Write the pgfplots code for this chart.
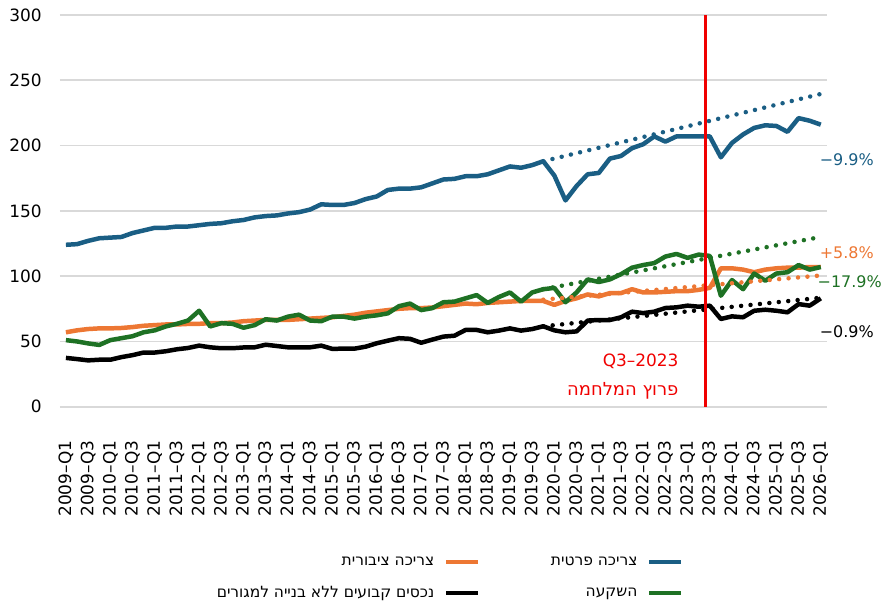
\documentclass[border=0pt]{standalone}
\usepackage{fontspec}
\setmainfont{DejaVu Sans}
\newfontfamily\hebfont[Script=Hebrew]{DejaVu Sans}
\TeXXeTstate=1
\usepackage{pgfplots}
\usepackage{pgfplotstable}
\pgfplotsset{compat=1.18}

\definecolor{cblue}{RGB}{26,94,132}
\definecolor{corange}{RGB}{237,119,51}
\definecolor{cgreen}{RGB}{30,113,36}
\definecolor{cred}{RGB}{240,0,0}
\definecolor{cgrid}{RGB}{217,217,217}

\newcommand{\heb}[1]{{\hebfont\beginR #1\endR}}

\pgfplotstableread{
i blue orange green black
0 124 57 51 37.4
1 124.5 58.5 50 36.5
2 127 59.5 48.5 35.5
3 129 60 47.3 36
4 129.5 60 51 36
5 130 60.3 52.5 38
6 133 61 54 39.5
7 135 62 57 41.5
8 137 62.5 58.5 41.5
9 137 63 61.5 42.5
10 138 63 63.5 44
11 138 63.4 66 45
12 139 63.5 73.5 46.8
13 140 64 61.5 45.5
14 140.5 64 64 44.8
15 142 64.5 63.5 44.8
16 143 65.5 60.5 45.4
17 145 66 62.5 45.5
18 146 66.5 67 47.5
19 146.5 66.5 66 46.5
20 148 66.5 69 45.5
21 149 67 70.5 45.5
22 151 67.5 66 45.5
23 155 68 65.5 46.8
24 154.5 68.5 69 44.3
25 154.5 69.5 69 44.5
26 156 70.5 67.5 44.5
27 159 72 69 46
28 161 73 70 48.6
29 166 74 71.5 50.6
30 167 75 77 52.5
31 167 75.5 79 52
32 168 75.5 74 49
33 171 76 75.5 51.4
34 174 77 80 53.7
35 174.5 78 80.5 54.4
36 176.5 79 83 58.8
37 176.5 78.5 85.5 58.8
38 178 79.5 79.5 57
39 181 80 84 58.3
40 184 80.5 87.5 60
41 183 81 80.5 58.3
42 185 81 87.5 59.5
43 188 81 90 61.6
44 177 78 91 58.5
45 158 81 80 57
46 169 83 87.5 57.7
47 178 86 97.5 66
48 179 84.5 95.5 66.4
49 190 87 97.5 66.4
50 192 87 101.5 68.5
51 198 90 106.5 72.8
52 201 87.5 108.5 71.7
53 207 87.5 110 72.8
54 203 88 115 75.6
55 207 88.5 117 76.1
56 207 88.5 114 77.4
57 207 89.5 116.5 76.6
58 207 91 115.5 77.4
59 191 106 85 67.2
60 202 106 97 69.2
61 208.5 105 90 68.5
62 213.5 103 102 73.5
63 215.5 105 96.5 74.3
64 215 106 102 73.5
65 210.5 106.5 103 72.3
66 221 106.5 108.5 78.6
67 219 107 105 77.4
68 216 107 107 83
}\data

\pgfplotstableread{
i blue orange green black
43 188 82 90 61.6
68 239.5 100.5 130 83.5
}\trend

\pgfplotsset{
  legline/.style={legend image code/.code={\draw[line width=4pt, ##1] (0pt,0pt) -- (32pt,0pt);}},
}

\begin{document}
\begin{tikzpicture}
\begin{axis}[
  scale only axis,
  width=770pt, height=393pt,
  xmin=-0.55, xmax=68.6,
  ymin=0, ymax=300,
  ytick={0,50,...,300},
  xtick={0,2,...,68},
  xticklabels={2009–Q1,2009–Q3,2010–Q1,2010–Q3,2011–Q1,2011–Q3,2012–Q1,2012–Q3,2013–Q1,2013–Q3,2014–Q1,2014–Q3,2015–Q1,2015–Q3,2016–Q1,2016–Q3,2017–Q1,2017–Q3,2018–Q1,2018–Q3,2019–Q1,2019–Q3,2020–Q1,2020–Q3,2021–Q1,2021–Q3,2022–Q1,2022–Q3,2023–Q1,2023–Q3,2024–Q1,2024–Q3,2025–Q1,2025–Q3,2026–Q1},
  axis line style={draw=none},
  major tick length=0pt,
  ymajorgrids,
  grid style={cgrid, line width=1.6pt},
  /pgf/number format/assume math mode=true,
  tick label style={font=\fontsize{17}{20}\selectfont, text=black},
  yticklabel style={inner sep=0pt, anchor=east},
  yticklabel shift=18pt,
  xticklabel style={inner sep=0pt, rotate=90, anchor=east},
  xticklabel shift=34pt,
  clip=false,
  legend columns=4,
  legend cell align=right,
  legend style={
    at={(0.509,-0.379)}, anchor=north,
    draw=none, fill=none,
    font=\fontsize{15.5}{18}\selectfont,
    row sep=19pt,
    nodes={inner sep=0pt},
    /tikz/column 2/.style={column sep=10pt},
    /tikz/column 4/.style={column sep=70pt},
    /tikz/column 6/.style={column sep=10pt},
  },
]
% actual series
\addplot[corange, line width=4.5pt, line join=round, forget plot] table[x=i, y=orange] {\data};
\addplot[cgreen, line width=4.5pt, line join=round, forget plot] table[x=i, y=green] {\data};
\addplot[black, line width=4.5pt, line join=round, forget plot] table[x=i, y=black] {\data};
\addplot[cblue, line width=4.5pt, line join=round, forget plot] table[x=i, y=blue] {\data};
% trends
\addplot[cblue, line width=4.5pt, line cap=round, dash pattern=on 0pt off 9.5pt, forget plot] table[x=i, y=blue] {\trend};
\addplot[corange, line width=4.5pt, line cap=round, dash pattern=on 0pt off 9.5pt, forget plot] table[x=i, y=orange] {\trend};
\addplot[cgreen, line width=4.5pt, line cap=round, dash pattern=on 0pt off 9.5pt, forget plot] table[x=i, y=green] {\trend};
\addplot[black, line width=4.5pt, line cap=round, dash pattern=on 0pt off 9.5pt, forget plot] table[x=i, y=black] {\trend};
% war line
\addplot[cred, line width=3pt, forget plot] coordinates {(57.6,0) (57.6,300)};

% annotations
\node[anchor=west, text=cblue, font=\fontsize{16}{19}\selectfont] at (axis cs:67.6,189.3) {−9.9\%};
\node[anchor=west, text=corange, font=\fontsize{16}{19}\selectfont] at (axis cs:67.6,118.3) {+5.8\%};
\node[anchor=west, text=cgreen, font=\fontsize{16}{19}\selectfont] at (axis cs:67.4,95.4) {−17.9\%};
\node[anchor=west, text=black, font=\fontsize{16}{19}\selectfont] at (axis cs:67.6,57.3) {−0.9\%};
\node[anchor=east, text=cred, font=\fontsize{17}{20}\selectfont, inner sep=0pt] at (axis cs:55.2,35) {Q3–2023};
\node[anchor=east, text=cred, font=\fontsize{18}{21}\selectfont, inner sep=0pt] at (axis cs:55.2,12.2) {\heb{פרוץ המלחמה}};

% legend
\addlegendimage{empty legend}
\addlegendentry{\heb{צריכה ציבורית}}
\addlegendimage{corange, legline}
\addlegendentry{}
\addlegendimage{empty legend}
\addlegendentry{\heb{צריכה פרטית}}
\addlegendimage{cblue, legline}
\addlegendentry{}
\addlegendimage{empty legend}
\addlegendentry{\heb{נכסים קבועים ללא בנייה למגורים}}
\addlegendimage{black, legline}
\addlegendentry{}
\addlegendimage{empty legend}
\addlegendentry{\heb{השקעה}}
\addlegendimage{cgreen, legline}
\addlegendentry{}
\end{axis}
\path[use as bounding box] (-60pt,-192pt) rectangle (825pt,408pt);
\end{tikzpicture}
\end{document}
